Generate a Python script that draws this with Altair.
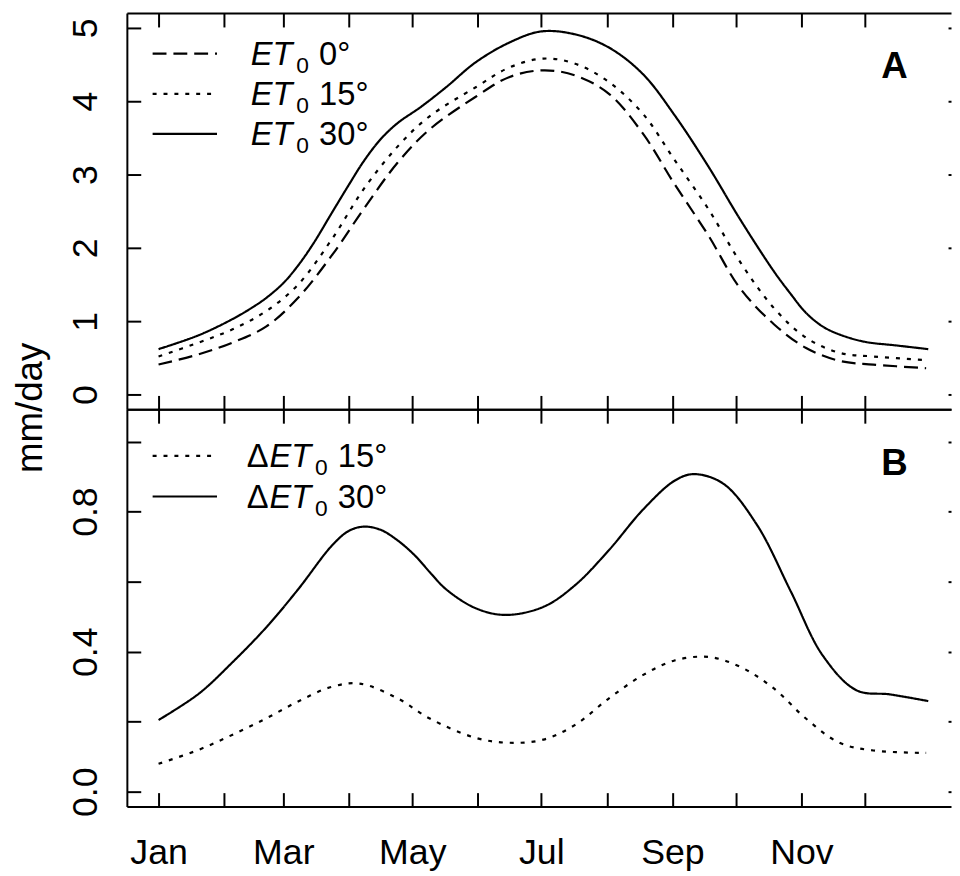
import altair as alt
import pandas as pd

FONT = "Liberation Sans"

# ---- x axis: month starts (day of year) ----
MONTH_DAYS = [1, 32, 60, 91, 121, 152, 182, 213, 244, 274, 305, 335]
MONTH_NAMES = ["Jan", "Feb", "Mar", "Apr", "May", "Jun", "Jul", "Aug", "Sep", "Oct", "Nov", "Dec"]
SHOWN_MONTHS = ["Jan", "Mar", "May", "Jul", "Sep", "Nov"]

# ---- panel A: ET0 (mm/day) ----
ET0_DAYS = [1, 20, 36, 52, 67, 83, 98, 114, 129, 151, 167, 183, 198, 214, 230, 245, 261, 276, 292, 307, 323, 339, 364]
ET0 = [0.41, 0.55, 0.71, 0.93, 1.32, 1.90, 2.53, 3.16, 3.61, 4.06, 4.33, 4.42, 4.35, 4.10, 3.56, 2.87, 2.17, 1.45, 0.96, 0.64, 0.46, 0.41, 0.36]
ET15_DAYS = [1, 20, 36, 52, 67, 83, 98, 114, 129, 151, 167, 183, 198, 214, 230, 245, 261, 276, 292, 307, 323, 339, 364]
ET15 = [0.52, 0.71, 0.89, 1.14, 1.50, 2.12, 2.80, 3.38, 3.79, 4.19, 4.46, 4.58, 4.51, 4.26, 3.83, 3.20, 2.53, 1.81, 1.18, 0.78, 0.57, 0.52, 0.47]
ET30_DAYS = [1, 20, 36, 46, 52, 60, 67, 74, 83, 91, 98, 106, 114, 125, 137, 151, 167, 182, 198, 214, 230, 245, 261, 276, 292, 300, 307, 315, 323, 335, 350, 365]
ET30 = [0.62, 0.81, 1.03, 1.20, 1.32, 1.52, 1.76, 2.05, 2.48, 2.86, 3.18, 3.48, 3.70, 3.92, 4.19, 4.53, 4.80, 4.95, 4.91, 4.73, 4.37, 3.81, 3.11, 2.39, 1.68, 1.37, 1.12, 0.93, 0.82, 0.72, 0.67, 0.62]

# ---- panel B: delta ET0 ----
D15_DAYS = [1, 20, 36, 52, 67, 83, 96, 114, 129, 151, 167, 183, 198, 214, 230, 245, 261, 276, 292, 307, 323, 339, 364]
D15 = [0.08, 0.12, 0.163, 0.21, 0.258, 0.30, 0.309, 0.267, 0.21, 0.154, 0.14, 0.149, 0.191, 0.267, 0.333, 0.375, 0.385, 0.357, 0.295, 0.21, 0.14, 0.118, 0.111]
D30_DAYS = [1, 20, 36, 52, 67, 83, 91, 98, 106, 114, 122, 130, 137, 151, 165, 183, 198, 214, 230, 245, 254, 268, 284, 300, 315, 331, 347, 365]
D30 = [0.205, 0.28, 0.37, 0.47, 0.578, 0.703, 0.745, 0.757, 0.748, 0.718, 0.676, 0.622, 0.578, 0.524, 0.505, 0.528, 0.59, 0.69, 0.805, 0.888, 0.907, 0.88, 0.762, 0.572, 0.39, 0.29, 0.278, 0.259]

SERIES_A = ["ET0 0°", "ET0 15°", "ET0 30°"]
DEG_A = ["0°", "15°", "30°"]
SERIES_B = ["ΔET0 15°", "ΔET0 30°"]
DEG_B = ["15°", "30°"]

YA_TICKS = [0, 1, 2, 3, 4, 5]
YB_TICKS = [0.0, 0.2, 0.4, 0.6, 0.8, 1.0]
X_DOMAIN = [-13.99, 375.76]
YA_DOMAIN = [-0.2, 5.2]
YB_DOMAIN = [-0.042, 1.092]

DASHES_A = [[14, 7], [4, 7], [1, 0]]
DASHES_B = [[4, 7], [1, 0]]
DASH_SCALE = alt.Scale(domain=SERIES_A + SERIES_B, range=DASHES_A + DASHES_B)

df_a = pd.concat([
    pd.DataFrame({"day": ET0_DAYS, "value": ET0, "series": SERIES_A[0]}),
    pd.DataFrame({"day": ET15_DAYS, "value": ET15, "series": SERIES_A[1]}),
    pd.DataFrame({"day": ET30_DAYS, "value": ET30, "series": SERIES_A[2]}),
])
df_b = pd.concat([
    pd.DataFrame({"day": D15_DAYS, "value": D15, "series": SERIES_B[0]}),
    pd.DataFrame({"day": D30_DAYS, "value": D30, "series": SERIES_B[1]}),
])
leg_a = pd.DataFrame({"series": SERIES_A, "deg": DEG_A, "row": list(range(len(SERIES_A)))})
leg_b = pd.DataFrame({"series": SERIES_B, "deg": DEG_B, "row": list(range(len(SERIES_B)))})

month_expr = " : ".join(
    f"datum.value == {d} ? '{n}'" for d, n in zip(MONTH_DAYS, MONTH_NAMES) if n in SHOWN_MONTHS
) + " : ''"

TICK_IN = {"expr": "-14"}
common = dict(domainColor="black", domainWidth=2, tickColor="black", tickWidth=2, grid=False,
              labelFont=FONT, labelColor="black", labelFontSize=36, labelFlush=False,
              labelOverlap=False)


def x_scale():
    return alt.Scale(domain=X_DOMAIN, nice=False, zero=False)


def x_axis(orient, labels=False):
    kw = dict(common)
    if labels:
        kw.update(labelExpr=month_expr, labelAlign="center", labelBaseline="alphabetic",
                  labelPadding=72)
    return alt.Axis(orient=orient, values=MONTH_DAYS, labels=labels, domain=True,
                    tickSize=TICK_IN, title=None, **kw)


def y_left(ticks, label_expr=None, title=None):
    kw = dict(common)
    kw.update(labelAngle=270, labelAlign="center", labelBaseline="alphabetic", labelPadding=45)
    if label_expr:
        kw["labelExpr"] = label_expr
    if title:
        kw.update(title=title, titleFont=FONT, titleFontSize=37, titleFontWeight="normal",
                  titleColor="black", titleAngle=270, titleAlign="center",
                  titleBaseline="alphabetic", titleX=-86, titleY=398)
    else:
        kw["title"] = None
    return alt.Axis(orient="left", values=ticks, labels=True, domain=True, tickSize=TICK_IN, **kw)


def y_right(ticks):
    return alt.Axis(orient="right", values=ticks, labels=False, domain=False,
                    tickSize={"expr": "-3"}, tickColor="black", tickWidth=2, grid=False, title=None)


def legend_layers(df, top, step, text_x, delta):
    dash = alt.StrokeDash("series:N", scale=DASH_SCALE, legend=None)
    base = alt.Chart(df).transform_calculate(
        ly=f"{top} + datum.row * {step}", ty=f"{top} + datum.row * {step} + 11.5")
    ly = alt.Y("ly:Q", scale=None, axis=None)
    ty = alt.Y("ty:Q", scale=None, axis=None)
    txt = dict(font=FONT, fontSize=33, align="left", baseline="alphabetic", color="black")
    layers = [base.mark_rule(color="black", strokeWidth=2.2).encode(
        x=alt.value(26), x2=alt.value(91), y=ly, strokeDash=dash)]
    x0 = text_x
    if delta:
        layers.append(base.mark_text(text="Δ", **txt).encode(x=alt.value(x0), y=ty))
        x0 += 23
    layers.append(base.mark_text(text="ET", fontStyle="italic", **txt).encode(x=alt.value(x0), y=ty))
    sub = dict(txt)
    sub["fontSize"] = 23
    layers.append(base.mark_text(text="0", dy=8, **sub).encode(x=alt.value(x0 + 46), y=ty))
    layers.append(base.mark_text(**txt).encode(text="deg:N", x=alt.value(x0 + 69), y=ty))
    return layers


def letter(ch):
    return alt.Chart(pd.DataFrame({"letter": [ch]})).mark_text(
        font=FONT, fontSize=37, fontWeight="bold", align="center", baseline="alphabetic",
        color="black").encode(text="letter:N", x=alt.value(775), y=alt.value(66))


def panel(df, ydom, yticks, ylabel_expr, title, xlabels, leg, leg_top, leg_step, delta, ch, height):
    yscale = alt.Scale(domain=ydom, nice=False, zero=False)
    lines = alt.Chart(df).mark_line(color="black", strokeWidth=2.2, interpolate="catmull-rom").encode(
        x=alt.X("day:Q", scale=x_scale(), axis=x_axis("bottom", labels=xlabels)),
        y=alt.Y("value:Q", scale=yscale, axis=y_left(yticks, ylabel_expr, title)),
        strokeDash=alt.StrokeDash("series:N", scale=DASH_SCALE, legend=None),
    )
    ghost = alt.Chart(df).mark_line(strokeOpacity=0).encode(
        x=alt.X("day:Q", scale=x_scale(), axis=x_axis("top")),
        y=alt.Y("value:Q", scale=yscale, axis=y_right(yticks)),
        detail="series:N",
    )
    layers = [lines, ghost] + legend_layers(leg, leg_top, leg_step, 121 if delta else 125, delta) + [letter(ch)]
    return alt.layer(*layers).resolve_scale(x="independent", y="independent").properties(
        width=832, height=height)


panel_a = panel(df_a, YA_DOMAIN, YA_TICKS, None, "mm/day", False,
                leg_a, 41, 40.5, False, "A", 400)
panel_b = panel(df_b, YB_DOMAIN, YB_TICKS,
                "round(datum.value * 10) % 4 == 0 ? format(datum.value, '.1f') : ''", None, True,
                leg_b, 47, 41, True, "B", 401)

chart = alt.vconcat(panel_a, panel_b, spacing=0, bounds="flush").properties(
    padding={"left": 4, "top": 0, "right": 0, "bottom": 0}
).configure(font=FONT).configure_view(strokeWidth=0)

chart.save("out.html", embed_options={"renderer": "svg", "actions": False})
